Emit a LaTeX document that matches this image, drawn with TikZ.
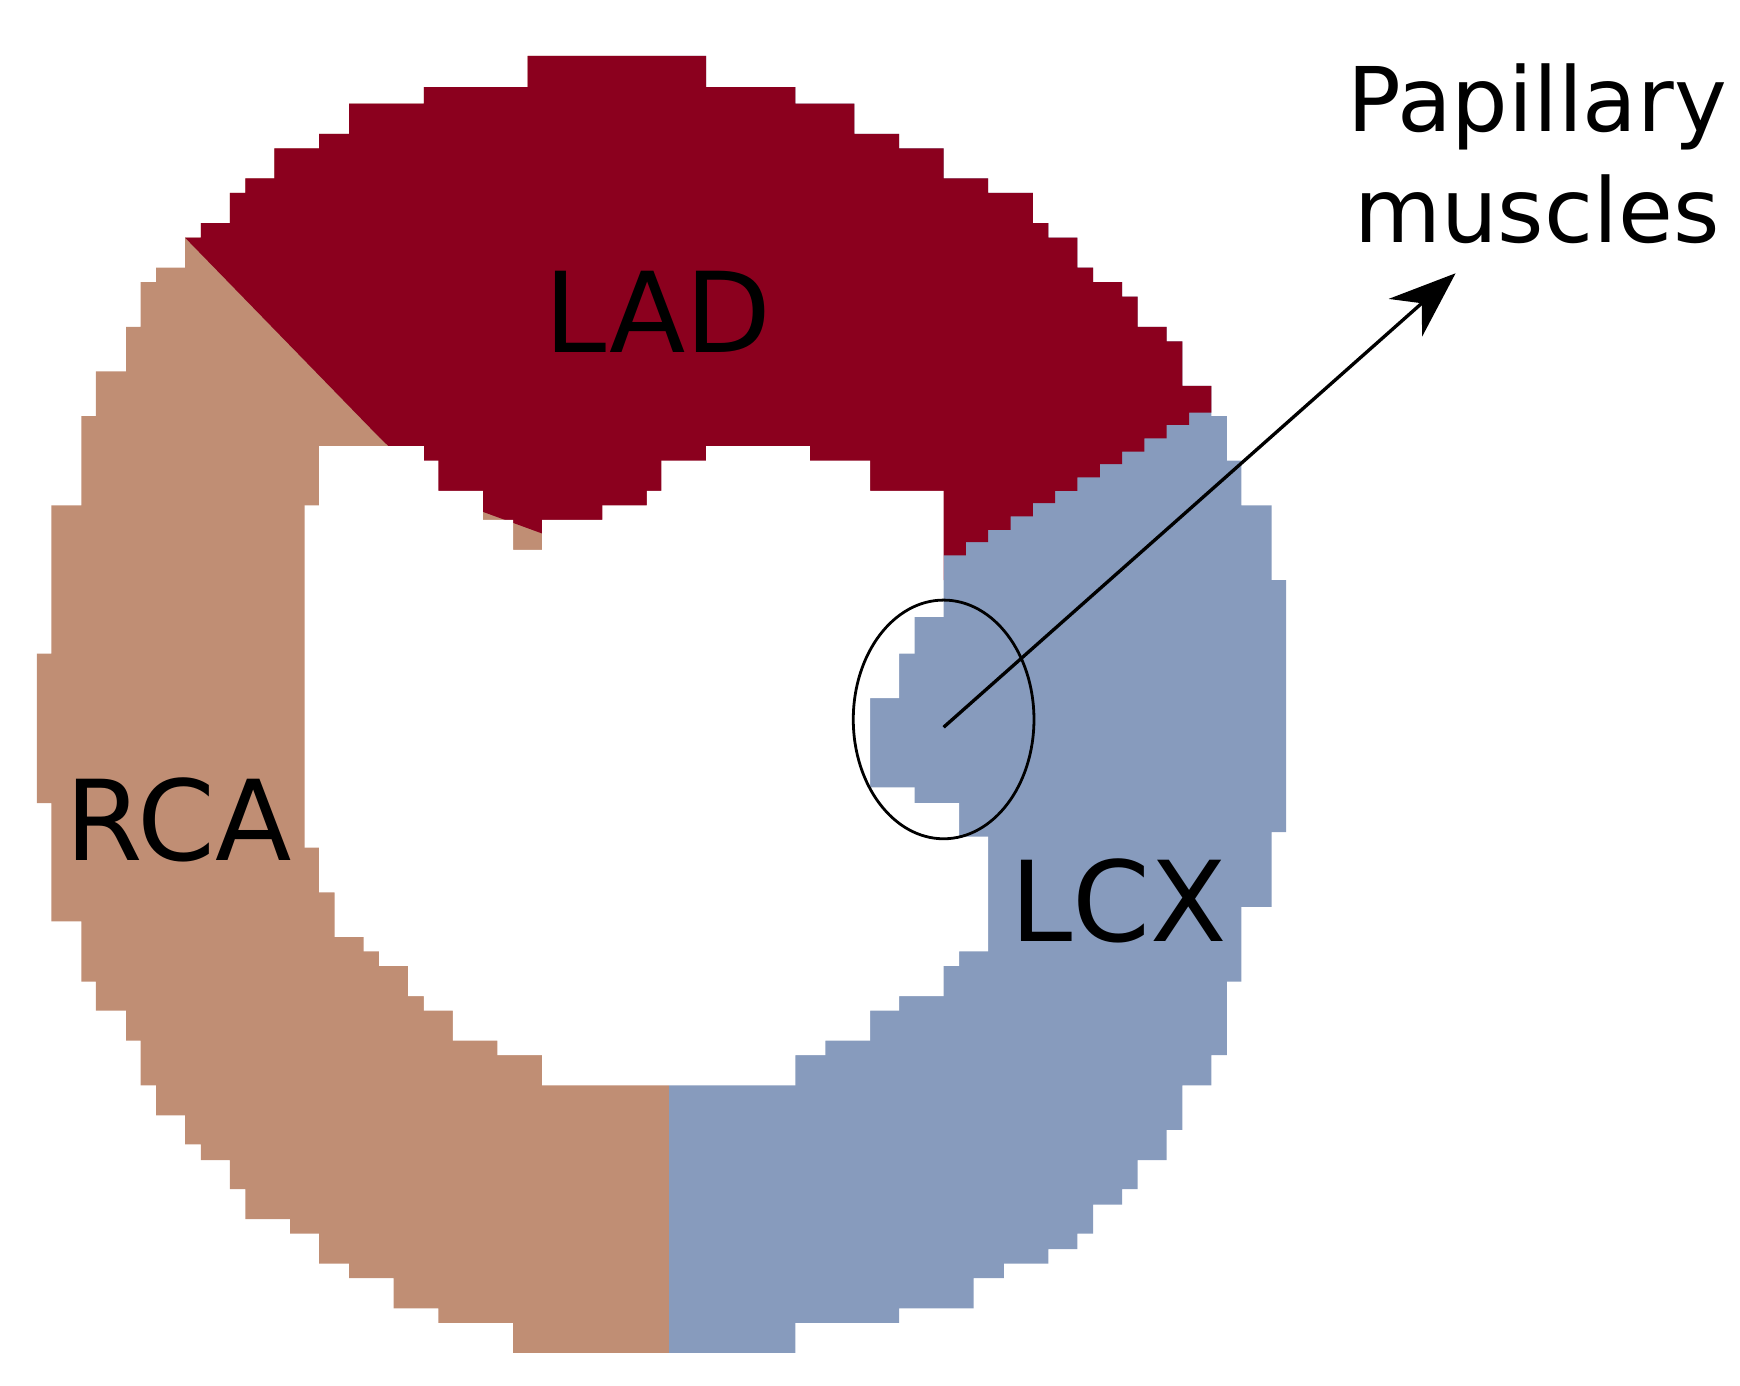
\documentclass[tikz,border=0pt]{standalone}
\usepackage{fontspec}
\setmainfont{DejaVu Sans}
\usetikzlibrary{arrows.meta,shapes.geometric}
\definecolor{lad}{HTML}{8B001E}
\definecolor{rca}{HTML}{C08E74}
\definecolor{lcx}{HTML}{879BBD}
\begin{document}
\begin{tikzpicture}[x=1pt,y=-1pt,
  lbl/.style={font=\fontsize{100}{110}\selectfont, inner sep=0pt}]
\useasboundingbox (0,0) rectangle (1560,1242);
\begin{scope}
\clip (473,50) -| (633,78) -| (713,93) -| (766,120) -| (806,133) -| (846,160) -| (886,173) -| (926,200) -| (940,213) -| (966,240) -| (980,253) -| (1006,266) -| (1020,293) -| (1046,306) -| (1060,346) -| (1086,373) -| (1100,413) -| (1113,453) -| (1140,520) -| (1153,746) -| (1140,813) -| (1113,880) -| (1100,946) -| (1086,973) -| (1060,1013) -| (1046,1040) -| (1020,1066) -| (1006,1080) -| (980,1106) -| (966,1120) -| (940,1133) -| (900,1146) -| (873,1173) -| (806,1186) -| (713,1213) -- (460,1213) |- (393,1186) |- (353,1173) |- (313,1146) |- (286,1133) |- (260,1106) |- (220,1093) |- (206,1066) |- (180,1040) |- (166,1026) |- (140,1000) |- (126,973) |- (113,933) |- (86,906) |- (73,880) |- (46,826) |- (33,720) |- (46,586) |- (73,453) |- (86,373) |- (113,333) |- (126,293) |- (140,253) |- (166,240) |- (180,213) |- (206,200) |- (220,173) |- (246,160) |- (286,133) |- (313,120) |- (380,93) |- (473,78) -- cycle;
\fill[rca] (0,0) rectangle (600,1300);
\fill[lcx] (600,0) rectangle (1300,1300);
\fill[lad] (160,0) -- (1200,0) -- (1200,358) -- (1086,358) |- (1066,370) |- (1046,381) |- (1026,393) |- (1006,405) |- (986,416) |- (966,428) |- (946,440) |- (926,451) |- (906,463) |- (886,475) |- (866,486) |- (846,498) -- (846,520) -- (600,520) -- (395,445) -- (340,392) -- (160,207) -- cycle;
\end{scope}
\fill[white] (286,400) -- (380,400) |- (393,413) |- (433,440) |- (460,466) |- (486,493) |- (540,466) |- (580,453) |- (593,440) |- (633,413) |- (726,400) |- (780,413) |- (846,440) |- (820,553) |- (806,586) |- (780,626) |- (820,706) |- (860,720) |- (886,750) |- (860,853) |- (846,866) |- (806,893) |- (780,906) |- (740,933) |- (713,946) |- (486,973) |- (446,946) |- (406,933) |- (380,906) |- (366,893) |- (340,866) |- (326,853) |- (300,840) |- (286,800) |- (273,760) |- (286,453) -- cycle;
\node[draw, line width=2.5pt, ellipse, minimum width=162pt, minimum height=214pt, inner sep=0pt] (pm) at (846,645) {};
\coordinate (pc) at (846,652);
\node[font=\fontsize{80}{100}\selectfont, align=center, inner sep=0pt] (pt) at (1378,138) {Papillary\\muscles};
\coordinate (tip) at (1305,245);
\draw[line width=3pt, -{Stealth[length=60pt,width=45pt]}] (pc) -- (tip);
\node[lbl] (la) at (590,280) {LAD};
\node[lbl] (rc) at (160,735) {RCA};
\node[lbl] (lc) at (1003,808) {LCX};
\end{tikzpicture}
\end{document}
